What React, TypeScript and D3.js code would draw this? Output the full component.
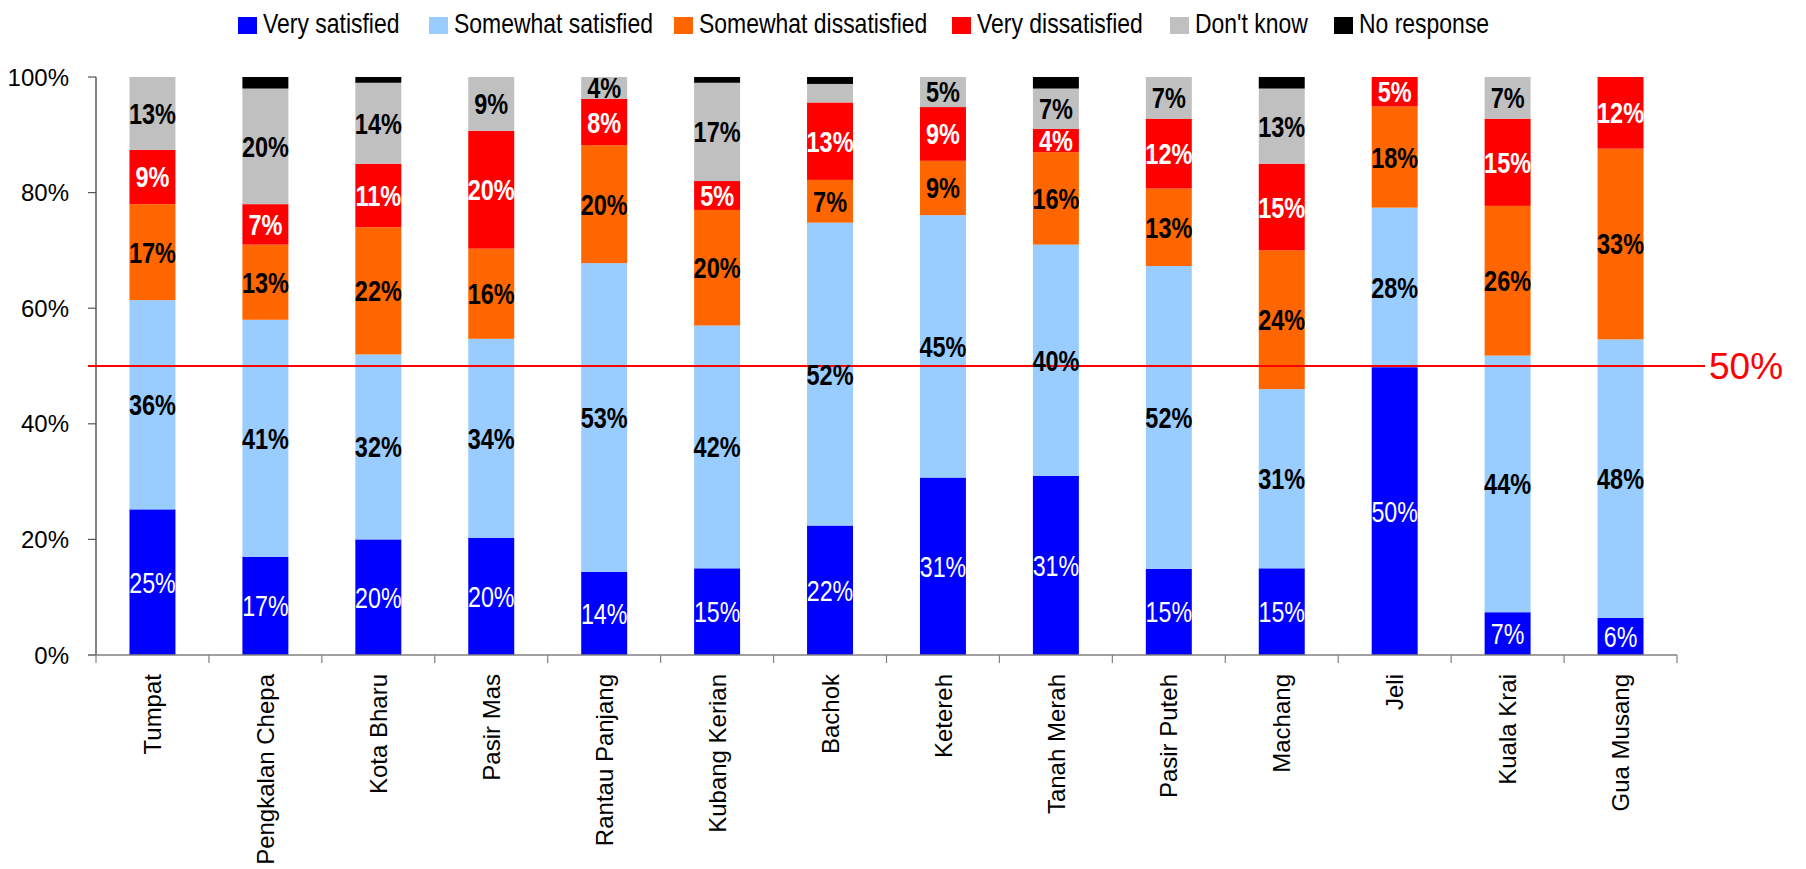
import React from "react";
import * as d3 from "d3";

const categories = [
  "Tumpat",
  "Pengkalan Chepa",
  "Kota Bharu",
  "Pasir Mas",
  "Rantau Panjang",
  "Kubang Kerian",
  "Bachok",
  "Ketereh",
  "Tanah Merah",
  "Pasir Puteh",
  "Machang",
  "Jeli",
  "Kuala Krai",
  "Gua Musang",
];

const seriesNames = [
  "Very satisfied",
  "Somewhat satisfied",
  "Somewhat dissatisfied",
  "Very dissatisfied",
  "Don't know",
  "No response",
];

const verySatisfied = [25.2, 17, 20, 20.3, 14.4, 15, 22.4, 30.7, 31, 14.9, 15, 49.8, 7.4, 6.4];
const somewhatSatisfied = [36.2, 41, 32, 34.4, 53.4, 42, 52.4, 45.4, 40, 52.4, 31, 27.6, 44.4, 48.2];
const somewhatDissatisfied = [16.6, 13, 22, 15.6, 20.4, 20, 7.4, 9.4, 16, 13.4, 24, 17.5, 25.9, 33.0];
const veryDissatisfied = [9.4, 7, 11, 20.4, 8.0, 5, 13.4, 9.3, 4, 12.1, 15, 5.1, 15.1, 12.4];
const dontKnow = [12.6, 20, 14, 9.3, 3.8, 17, 3.2, 5.2, 7, 7.2, 13, 0, 7.2, 0];
const noResponse = [0, 2, 1, 0, 0, 1, 1.2, 0, 2, 0, 2, 0, 0, 0];

const yTicks = [0, 20, 40, 60, 80, 100];
const referenceValue = 50;

const colors = ["#0000FF", "#99CCFF", "#FF6600", "#FF0000", "#C0C0C0", "#000000"];
const labelColors = ["#FFFFFF", "#000000", "#000000", "#FFFFFF", "#000000", "#000000"];
const labelWeights = ["normal", "bold", "bold", "bold", "bold", "bold"];
const legendX = [238, 429, 674, 952, 1170, 1334];

const W = 1806;
const H = 869;
const plotLeft = 96;
const plotRight = 1677;
const plotTop = 77;
const plotBottom = 655;
const FONT = "'Liberation Sans', Arial, Helvetica, sans-serif";

export default function App() {
  const seriesValues = [
    verySatisfied,
    somewhatSatisfied,
    somewhatDissatisfied,
    veryDissatisfied,
    dontKnow,
    noResponse,
  ];
  const rows = categories.map((c, i) => {
    const r: any = { category: c };
    seriesNames.forEach((s, k) => (r[s] = seriesValues[k][i]));
    return r;
  });
  const stacked = d3.stack().keys(seriesNames)(rows as any);

  const x = d3
    .scaleBand()
    .domain(categories)
    .range([plotLeft, plotRight])
    .paddingInner(0.593)
    .paddingOuter(0.2965);
  const y = d3.scaleLinear().domain([0, 100]).range([plotBottom, plotTop]);
  const bw = x.bandwidth();

  return (
    <svg
      width={W}
      height={H}
      style={{ position: "absolute", left: 0, top: 0, background: "#fff" }}
      fontFamily={FONT}
    >
      {/* Legend */}
      {seriesNames.map((s, k) => (
        <g key={s}>
          <rect x={legendX[k]} y={17} width={19} height={17} fill={colors[k]} />
          <g transform={`translate(${legendX[k] + 25},33) scale(0.82,1)`}>
            <text fontSize={28} fill="#000">
              {s}
            </text>
          </g>
        </g>
      ))}

      {/* Bars */}
      {stacked.map((layer, k) => (
        <g key={layer.key} fill={colors[k]}>
          {layer.map((d: any, i: number) =>
            d[1] - d[0] > 0 ? (
              <rect
                key={i}
                x={x(categories[i])}
                y={y(d[1])}
                width={bw}
                height={y(d[0]) - y(d[1])}
              />
            ) : null
          )}
        </g>
      ))}

      {/* Axes */}
      <line x1={plotLeft} x2={plotLeft} y1={plotTop} y2={plotBottom} stroke="#333" strokeWidth={1.2} />
      {yTicks.map((t) => (
        <g key={t}>
          <line x1={plotLeft - 8} x2={plotLeft} y1={y(t)} y2={y(t)} stroke="#555" strokeWidth={1.2} />
          <text
            x={69}
            y={y(t)}
            dy="0.36em"
            textAnchor="end"
            fontSize={24}
            fill="#000"
          >
            {t}%
          </text>
        </g>
      ))}
      <line x1={plotLeft - 8} x2={plotRight} y1={plotBottom} y2={plotBottom} stroke="#808080" strokeWidth={1.5} />
      {categories.map((c, i) => (
        <line
          key={c}
          x1={plotLeft + (i + 1) * x.step()}
          x2={plotLeft + (i + 1) * x.step()}
          y1={plotBottom}
          y2={plotBottom + 8}
          stroke="#808080"
          strokeWidth={1.2}
        />
      ))}
      <line x1={plotLeft} x2={plotLeft} y1={plotBottom} y2={plotBottom + 8} stroke="#808080" strokeWidth={1.2} />
      {categories.map((c) => (
        <text
          key={c}
          transform={`translate(${(x(c) as number) + bw / 2},674) rotate(-90)`}
          dy="0.36em"
          textAnchor="end"
          fontSize={24}
          fill="#000"
        >
          {c}
        </text>
      ))}

      {/* 50% reference line */}
      <line
        x1={88}
        x2={1705}
        y1={y(referenceValue)}
        y2={y(referenceValue)}
        stroke="#FF0000"
        strokeWidth={2}
      />
      <text x={1709} y={y(referenceValue)} dy="0.36em" fontSize={37} fill="#FF0000">
        {referenceValue}%
      </text>

      {/* Segment labels */}
      {stacked.map((layer, k) =>
        layer.map((d: any, i: number) => {
          const v = d[1] - d[0];
          if (k === 5 || v < 3.5) return null;
          const cx = (x(categories[i]) as number) + bw / 2;
          const cy = y((d[0] + d[1]) / 2);
          return (
            <g key={`${k}-${i}`} transform={`translate(${cx},${cy}) scale(${k === 0 ? 0.8 : 0.81},1)`}>
              <text
                textAnchor="middle"
                dy="0.36em"
                fontSize={29}
                fontWeight={labelWeights[k]}
                fill={labelColors[k]}
              >
                {Math.round(v)}%
              </text>
            </g>
          );
        })
      )}
    </svg>
  );
}
